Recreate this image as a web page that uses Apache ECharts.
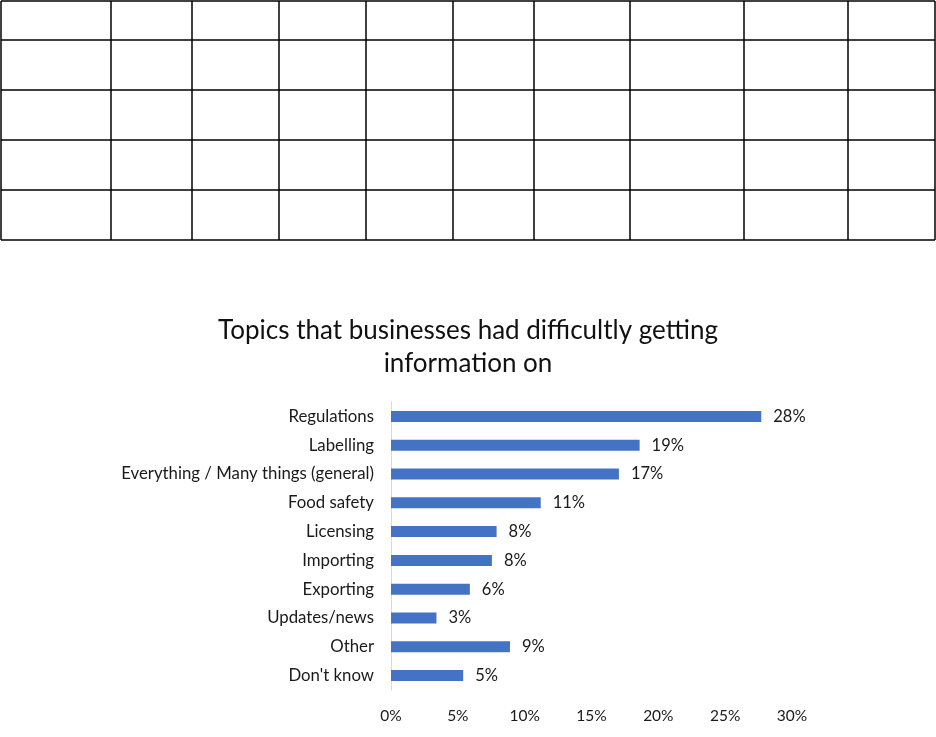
<!DOCTYPE html>
<html>
<head>
<meta charset="utf-8">
<script src="https://cdn.jsdelivr.net/npm/echarts@6/dist/echarts.min.js"></script>
<style>
html,body{margin:0;padding:0;background:#fff;}
#chart{width:936px;height:737px;}
</style>
</head>
<body>
<div id="chart"></div>
<script>
const categories = ["Regulations","Labelling","Everything / Many things (general)","Food safety","Licensing","Importing","Exporting","Updates/news","Other","Don't know"];
const values = [27.7, 18.6, 17.05, 11.2, 7.9, 7.55, 5.9, 3.4, 8.9, 5.4];
const titleText = "Topics that businesses had difficultly getting\ninformation on";
const tableCols = [1, 111, 192, 279, 366, 453, 534, 630, 744, 848, 935];
const tableRows = [1, 40, 90, 140, 190, 240];

const FONT = "Lato, 'Open Sans', sans-serif";
const graphics = [];
tableCols.forEach(x => graphics.push({type:'line', shape:{x1:x, y1:tableRows[0], x2:x, y2:tableRows[tableRows.length-1]}, style:{stroke:'#000', lineWidth:1.5}}));
tableRows.forEach(y => graphics.push({type:'line', shape:{x1:tableCols[0], y1:y, x2:tableCols[tableCols.length-1], y2:y}, style:{stroke:'#000', lineWidth:1.5}}));

const chart = echarts.init(document.getElementById('chart'));
chart.setOption({
  animation:false,
  backgroundColor:'#fff',
  title:{text:titleText, left:'center', top:309, textStyle:{fontFamily:FONT, fontSize:26, fontWeight:'normal', color:'#111', lineHeight:33}},
  graphic: graphics,
  grid:{left:391, right:144, top:402, bottom:47, containLabel:false},
  xAxis:{type:'value', min:0, max:30, interval:5,
    axisLabel:{formatter: v => v + '%', fontFamily:FONT, fontSize:15.5, color:'#1a1a1a', margin:18},
    axisLine:{show:false}, axisTick:{show:false}, splitLine:{show:false}},
  yAxis:{type:'category', data:categories, inverse:true,
    axisLabel:{fontFamily:FONT, fontSize:16.8, color:'#1a1a1a', margin:17},
    axisLine:{show:true, lineStyle:{color:'#d9d9d9', width:1}}, axisTick:{show:false}},
  series:[{type:'bar', data:values, barWidth:11, itemStyle:{color:'#4472C4'},
    label:{show:true, position:'right', distance:12, formatter: p => Math.round(p.value) + '%', fontFamily:FONT, fontSize:16.5, color:'#1a1a1a'}}]
});
</script>
</body>
</html>
